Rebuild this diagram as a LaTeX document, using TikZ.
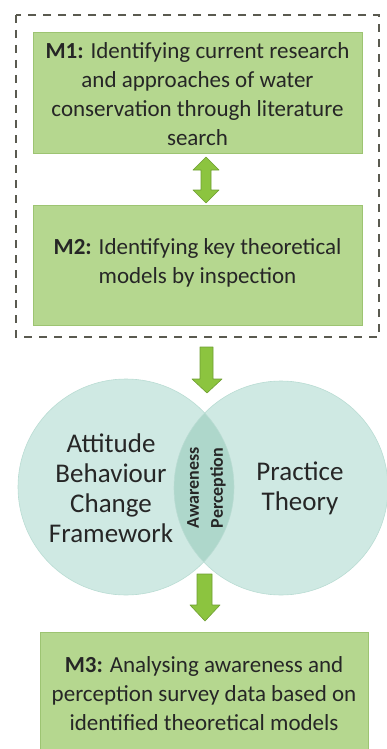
\documentclass[tikz,border=0pt]{standalone}
\usepackage{fontspec}
\setmainfont{Carlito}
\definecolor{boxfill}{HTML}{B5D78F}
\definecolor{boxline}{HTML}{9DC472}
\definecolor{arrfill}{HTML}{8CC43F}
\definecolor{arrline}{HTML}{6E9E32}
\definecolor{circfill}{HTML}{CFE9E3}
\definecolor{circline}{HTML}{B9DCD3}
\definecolor{lensfill}{HTML}{AED7CB}
\definecolor{dashcol}{HTML}{5A5A50}
\begin{document}
\begin{tikzpicture}[x=1pt,y=-1pt,
  greenbox/.style={fill=boxfill,draw=boxline,line width=0.8pt},
  boxtext/.style={align=center,font=\fontsize{23}{29}\selectfont,text=black!85},
  circtext/.style={align=center,font=\fontsize{27}{30}\selectfont,text=black!85},
  lenstext/.style={font=\fontsize{18}{20}\selectfont\bfseries,text=black!85,rotate=90},
  blockarrow/.style={fill=arrfill,draw=arrline,line width=0.6pt,line join=round}]
\useasboundingbox (0,0) rectangle (387,749);
\clip (0,0) rectangle (387,749);
% dashed frame
\draw[dashcol,line width=1.3pt,dash pattern=on 8pt off 7pt] (16,15) rectangle (379,337);
% boxes
\draw[greenbox] (33,32) rectangle (362,153);
\node[boxtext] (m1) at (197.5,94) {\textbf{M1:} Identifying current research\\and approaches of water\\conservation through literature\\search};
\draw[greenbox] (33,205) rectangle (362,325);
\node[boxtext] (m2) at (197.5,263) {\textbf{M2:} Identifying key theoretical\\models by inspection};
\draw[greenbox] (40,632) rectangle (368,770);
\node[boxtext] (m3) at (204,694) {\textbf{M3:} Analysing awareness and\\perception survey data based on\\identified theoretical models};
% double arrow
\draw[blockarrow] (206,157) -- (219,170) -- (211,170) -- (211,190) -- (219,190) -- (206,203)
  -- (193,190) -- (201,190) -- (201,170) -- (193,170) -- cycle;
% circles
\fill[circfill] (126,487) circle (108);
\fill[circfill] (281,488) circle (107);
\begin{scope}
\clip (126,487) circle (108);
\fill[lensfill] (281,488) circle (107);
\end{scope}
\draw[circline,line width=0.6pt] (126,487) circle (108);
\draw[circline,line width=0.6pt] (281,488) circle (107);
\node[circtext] (abc) at (111,488) {Attitude\\Behaviour\\Change\\Framework};
\node[circtext] (pt) at (300,488) {Practice\\Theory};
\node[lenstext] (aw) at (193,488) {Awareness};
\node[lenstext] (pe) at (218,488) {Perception};
% down arrows
\draw[blockarrow] (200,347) -- (213,347) -- (213,379) -- (222,379) -- (207,393) -- (192,379) -- (200,379) -- cycle;
\draw[blockarrow] (197,574) -- (212,574) -- (212,605) -- (220,605) -- (205,621) -- (190,605) -- (197,605) -- cycle;
\end{tikzpicture}
\end{document}
